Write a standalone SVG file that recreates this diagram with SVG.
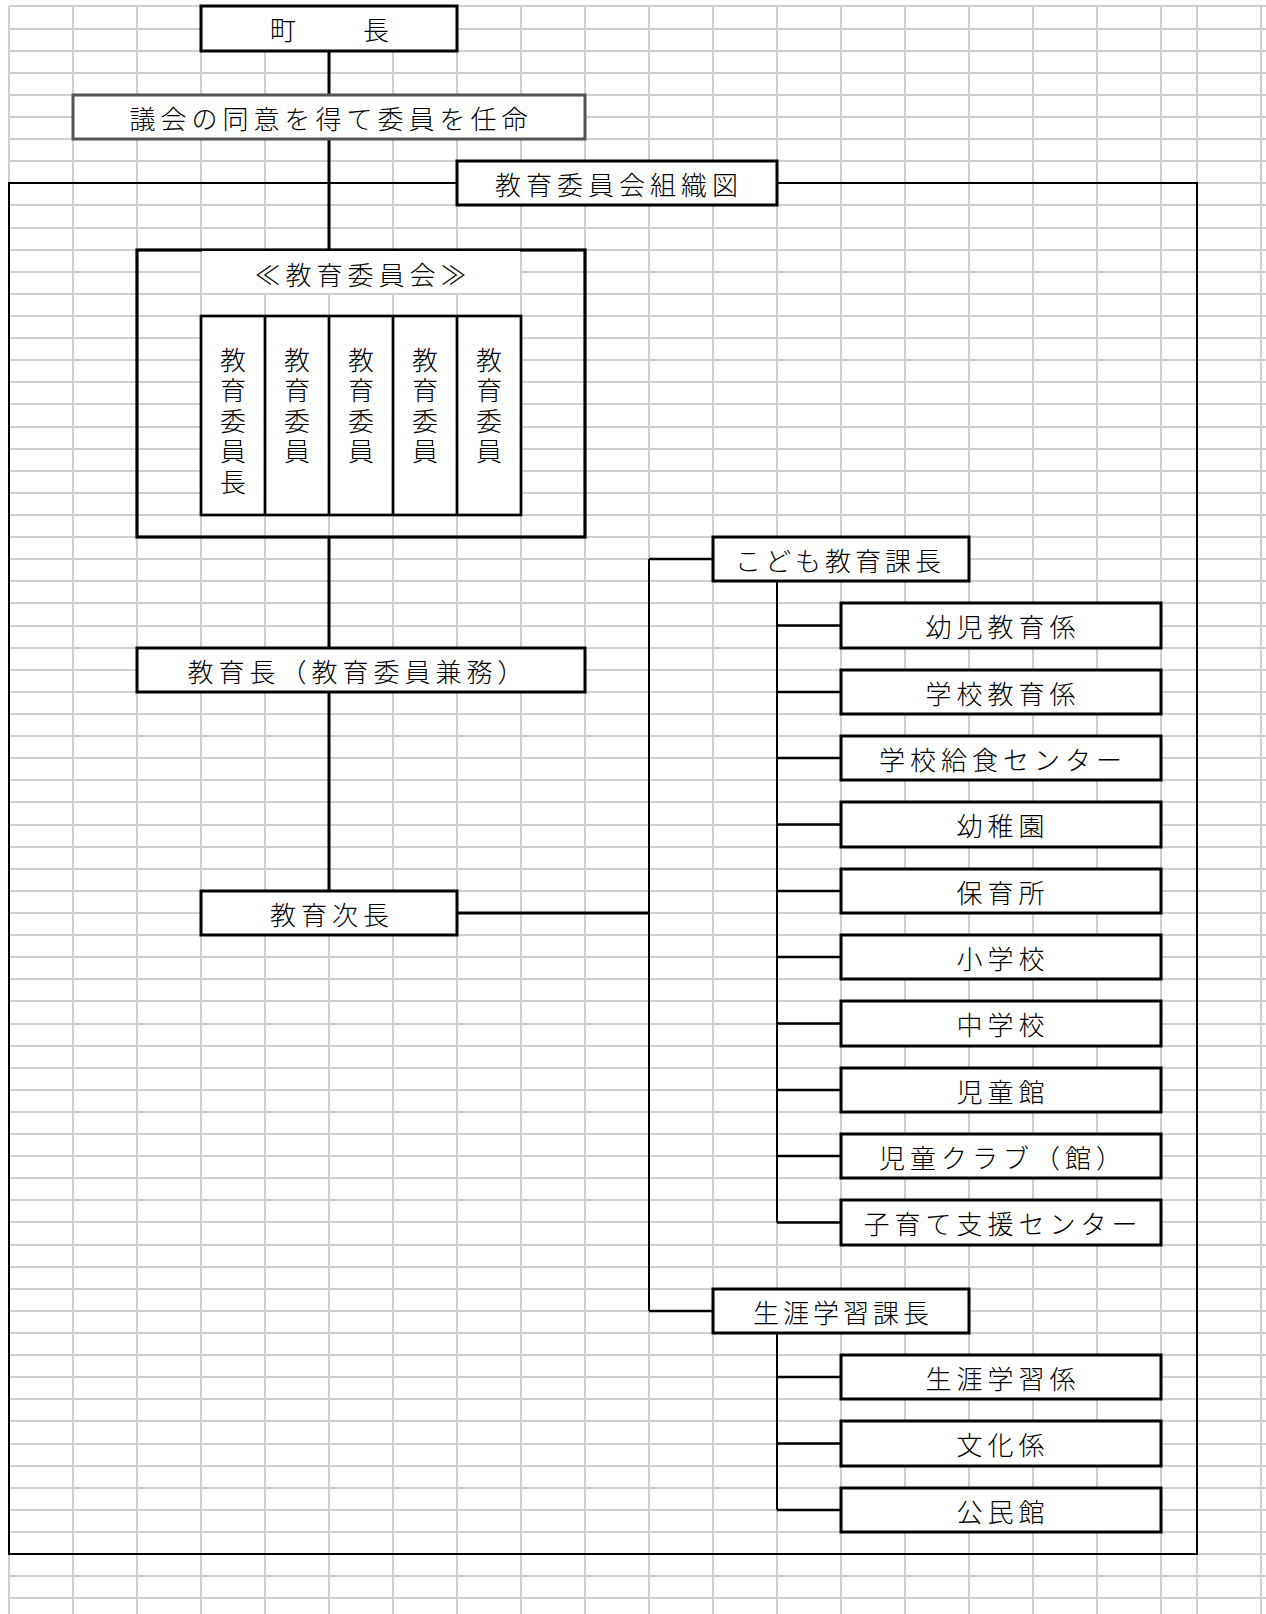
<svg xmlns="http://www.w3.org/2000/svg" width="1266" height="1614" viewBox="0 0 1266 1614">
<style>
.grid{stroke:#cfcfcf;stroke-width:2;fill:none}
.box{fill:#fff;stroke:#000;stroke-width:3}
.gbox{fill:#fff;stroke:#555;stroke-width:3}
.frame{fill:none;stroke:#000;stroke-width:2}
.ln{stroke:#000;stroke-width:3;fill:none}
.lv{stroke:#000;stroke-width:2;fill:none}
.lb{stroke:#000;stroke-width:2.6;fill:none}
text{font-family:"Noto Sans CJK JP","Noto Sans CJK SC",sans-serif;font-size:26px;letter-spacing:5px;fill:#000;text-anchor:middle;dominant-baseline:central;font-weight:300}
.v{writing-mode:vertical-rl;text-anchor:start;letter-spacing:4.5px}
.n{letter-spacing:4px}
</style>
<rect width="1266" height="1614" fill="#fff"/>
<g id="grid">
<path class="grid" d="M9 6H1266M9 29H1266M9 51H1266M9 73H1266M9 95H1266M9 117H1266M9 139H1266M9 161H1266M9 183H1266M9 205H1266M9 228H1266M9 250H1266M9 272H1266M9 294H1266M9 316H1266M9 338H1266M9 360H1266M9 382H1266M9 404H1266M9 427H1266M9 449H1266M9 471H1266M9 493H1266M9 515H1266M9 537H1266M9 559H1266M9 581H1266M9 603H1266M9 626H1266M9 648H1266M9 670H1266M9 692H1266M9 714H1266M9 736H1266M9 758H1266M9 780H1266M9 802H1266M9 825H1266M9 847H1266M9 869H1266M9 891H1266M9 913H1266M9 935H1266M9 957H1266M9 979H1266M9 1001H1266M9 1024H1266M9 1046H1266M9 1068H1266M9 1090H1266M9 1112H1266M9 1134H1266M9 1156H1266M9 1178H1266M9 1200H1266M9 1222H1266M9 1245H1266M9 1267H1266M9 1289H1266M9 1311H1266M9 1333H1266M9 1355H1266M9 1377H1266M9 1399H1266M9 1421H1266M9 1444H1266M9 1466H1266M9 1488H1266M9 1510H1266M9 1532H1266M9 1554H1266M9 1576H1266M9 1598H1266"/>
<path class="grid" d="M9 6V1614M73 6V1614M137 6V1614M201 6V1614M265 6V1614M329 6V1614M393 6V1614M457 6V1614M521 6V1614M585 6V1614M649 6V1614M713 6V1614M777 6V1614M841 6V1614M905 6V1614M969 6V1614M1033 6V1614M1097 6V1614M1161 6V1614M1197 6V1614M1261 6V1614"/>
</g>
<g id="frame">
<rect class="frame" x="9" y="183" width="1188" height="1371"/>
</g>
<g id="connectors">
<path class="ln" d="M329 51V95M329 139V250M329 537V648M329 692V891M457 913H649"/>
<path class="lv" d="M649 559V1311M777 581V1222.5M777 1333V1510"/>
<path class="lb" d="M649 559H713M649 1311H713M777 625.5H841M777 692H841M777 758H841M777 824.5H841M777 891H841M777 957H841M777 1023.5H841M777 1090H841M777 1156H841M777 1222.5H841M777 1377H841M777 1443.5H841M777 1510H841"/>
</g>
<g id="chocho">
<rect class="box" x="201" y="6" width="256" height="45"/>
<text x="332" y="28.5">町　　長</text>
</g>
<g id="gikai">
<rect class="gbox" x="73" y="95" width="512" height="44"/>
<text x="331" y="117">議会の同意を得て委員を任命</text>
</g>
<g id="title">
<rect class="box" x="457" y="161" width="320" height="44"/>
<text x="619" y="183">教育委員会組織図</text>
</g>
<g id="iinkai">
<rect x="137" y="250" width="448" height="287" fill="none" stroke="#000" stroke-width="3.2"/>
<rect x="202" y="251" width="318" height="42" fill="#fff"/>
<text x="363" y="273">≪教育委員会≫</text>
</g>
<g id="members">
<rect x="201" y="316" width="320" height="199" fill="#fff" stroke="#000" stroke-width="2.7"/>
<path d="M265 316V515M329 316V515M393 316V515M457 316V515" stroke="#000" stroke-width="2.7"/>
<text class="v" x="233" y="347">教育委員長</text>
<text class="v" x="297" y="347">教育委員</text>
<text class="v" x="361" y="347">教育委員</text>
<text class="v" x="425" y="347">教育委員</text>
<text class="v" x="489" y="347">教育委員</text>
</g>
<g id="kyoikucho">
<rect class="box" x="137" y="648" width="448" height="44"/>
<text x="358" y="670">教育長（教育委員兼務）</text>
</g>
<g id="jicho">
<rect class="box" x="201" y="891" width="256" height="44"/>
<text x="332" y="913">教育次長</text>
</g>
<g id="kodomo">
<rect class="box" x="713" y="537" width="256" height="44"/>
<text class="n" x="840" y="559">こども教育課長</text>
</g>
<g id="s1"><rect class="box" x="841" y="603" width="320" height="45"/><text x="1003" y="625.5">幼児教育係</text></g>
<g id="s2"><rect class="box" x="841" y="670" width="320" height="44"/><text x="1003" y="692">学校教育係</text></g>
<g id="s3"><rect class="box" x="841" y="736" width="320" height="44"/><text x="1003" y="758">学校給食センター</text></g>
<g id="s4"><rect class="box" x="841" y="802" width="320" height="45"/><text x="1003" y="824.5">幼稚園</text></g>
<g id="s5"><rect class="box" x="841" y="869" width="320" height="44"/><text x="1003" y="891">保育所</text></g>
<g id="s6"><rect class="box" x="841" y="935" width="320" height="44"/><text x="1003" y="957">小学校</text></g>
<g id="s7"><rect class="box" x="841" y="1001" width="320" height="45"/><text x="1003" y="1023.5">中学校</text></g>
<g id="s8"><rect class="box" x="841" y="1068" width="320" height="44"/><text x="1003" y="1090">児童館</text></g>
<g id="s9"><rect class="box" x="841" y="1134" width="320" height="44"/><text x="1003" y="1156">児童クラブ（館）</text></g>
<g id="s10"><rect class="box" x="841" y="1200" width="320" height="45"/><text x="1003" y="1222.5">子育て支援センター</text></g>
<g id="shogai">
<rect class="box" x="713" y="1289" width="256" height="44"/>
<text class="n" x="843" y="1311">生涯学習課長</text>
</g>
<g id="t1"><rect class="box" x="841" y="1355" width="320" height="44"/><text x="1003" y="1377">生涯学習係</text></g>
<g id="t2"><rect class="box" x="841" y="1421" width="320" height="45"/><text x="1003" y="1443.5">文化係</text></g>
<g id="t3"><rect class="box" x="841" y="1488" width="320" height="44"/><text x="1003" y="1510">公民館</text></g>
</svg>
